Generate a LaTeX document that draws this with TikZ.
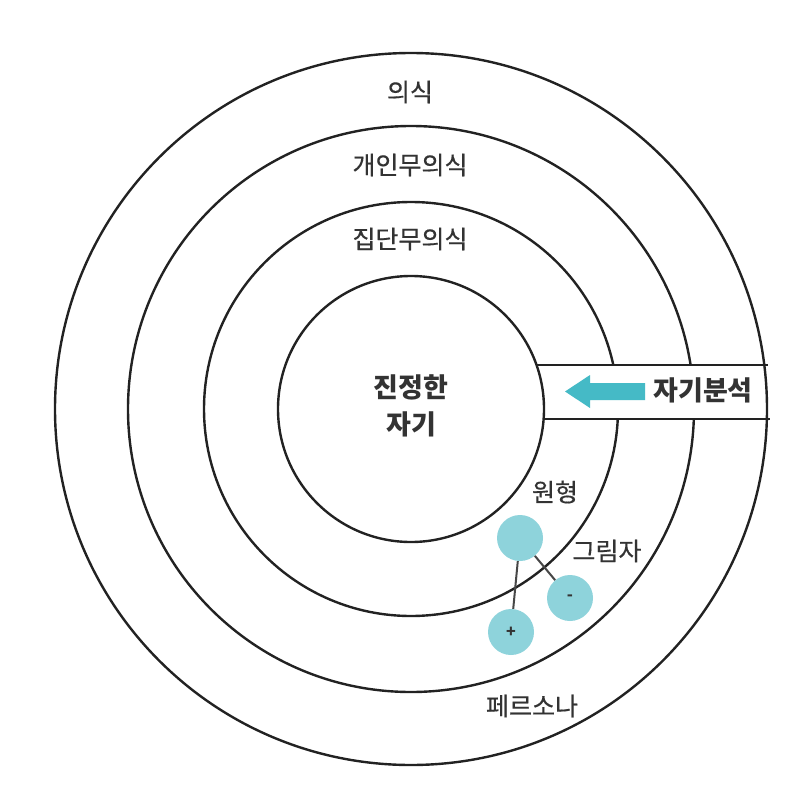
\documentclass[tikz,border=0pt]{standalone}
\usepackage{fontspec}
\setmainfont{Noto Sans CJK KR}
\newfontfamily\lblfont[FakeBold=0.5]{Noto Sans CJK KR}
\definecolor{ringcol}{HTML}{222222}
\definecolor{txtcol}{HTML}{333333}
\definecolor{arrowcol}{HTML}{45BAC6}
\definecolor{ballcol}{HTML}{8ED3DB}
\tikzset{
  ring/.style={draw=ringcol, line width=2.4pt},
  lbl/.style={text=txtcol, font=\lblfont\fontsize{25}{29}\selectfont, inner sep=0pt},
  boldlbl/.style={text=txtcol, font=\fontsize{27}{37}\selectfont\bfseries, inner sep=0pt, align=center},
  ball/.style={circle, fill=ballcol, minimum size=46pt, inner sep=0pt, text=txtcol, font=\fontsize{16}{16}\selectfont\bfseries},
  link/.style={draw=txtcol!90, line width=2pt},
}
\begin{document}
\begin{tikzpicture}[x=1pt,y=-1pt]
\useasboundingbox (0,0) rectangle (800,808);
\coordinate (c) at (411,409);
% middle rings
\draw[ring] (c) circle[radius=283];
\draw[ring] (c) circle[radius=207];
% band interior
\fill[white] (546,365) rectangle (766,419);
% outer and inner rings
\draw[ring] (c) circle[radius=356];
\draw[ring] (c) circle[radius=133];
% band edges
\coordinate (bandTL) at (536.5,365);
\coordinate (bandTR) at (768,365);
\coordinate (bandBL) at (543.6,419);
\coordinate (bandBR) at (770,419);
\draw[ring] (bandTL) -- (bandTR);
\draw[ring] (bandBL) -- (bandBR);
% arrow
\fill[arrowcol] (645,383) -- (590,383) -- (590,375) -- (565,391.5) -- (590,408) -- (590,400) -- (645,400) -- cycle;
% labels
\node[lbl] (l1) at (410,92) {의식};
\node[lbl] (l2) at (410,165) {개인무의식};
\node[lbl] (l3) at (410,239) {집단무의식};
\node[boldlbl] (self) at (411,406) {진정한\\자기};
\node[boldlbl] (ana) at (703,390) {자기분석};
\node[lbl] (arch) at (555,492) {원형};
\node[lbl] (shadow) at (607,551) {그림자};
\node[lbl] (pers) at (532,706) {페르소나};
% balls
\node[ball] (b0) at (520,538) {};
\node[ball] (bm) at (570,598) {-};
\node[ball] (bp) at (511,632) {+};
\draw[link] (b0) -- (bm);
\draw[link] (b0) -- (bp);
\end{tikzpicture}
\end{document}
